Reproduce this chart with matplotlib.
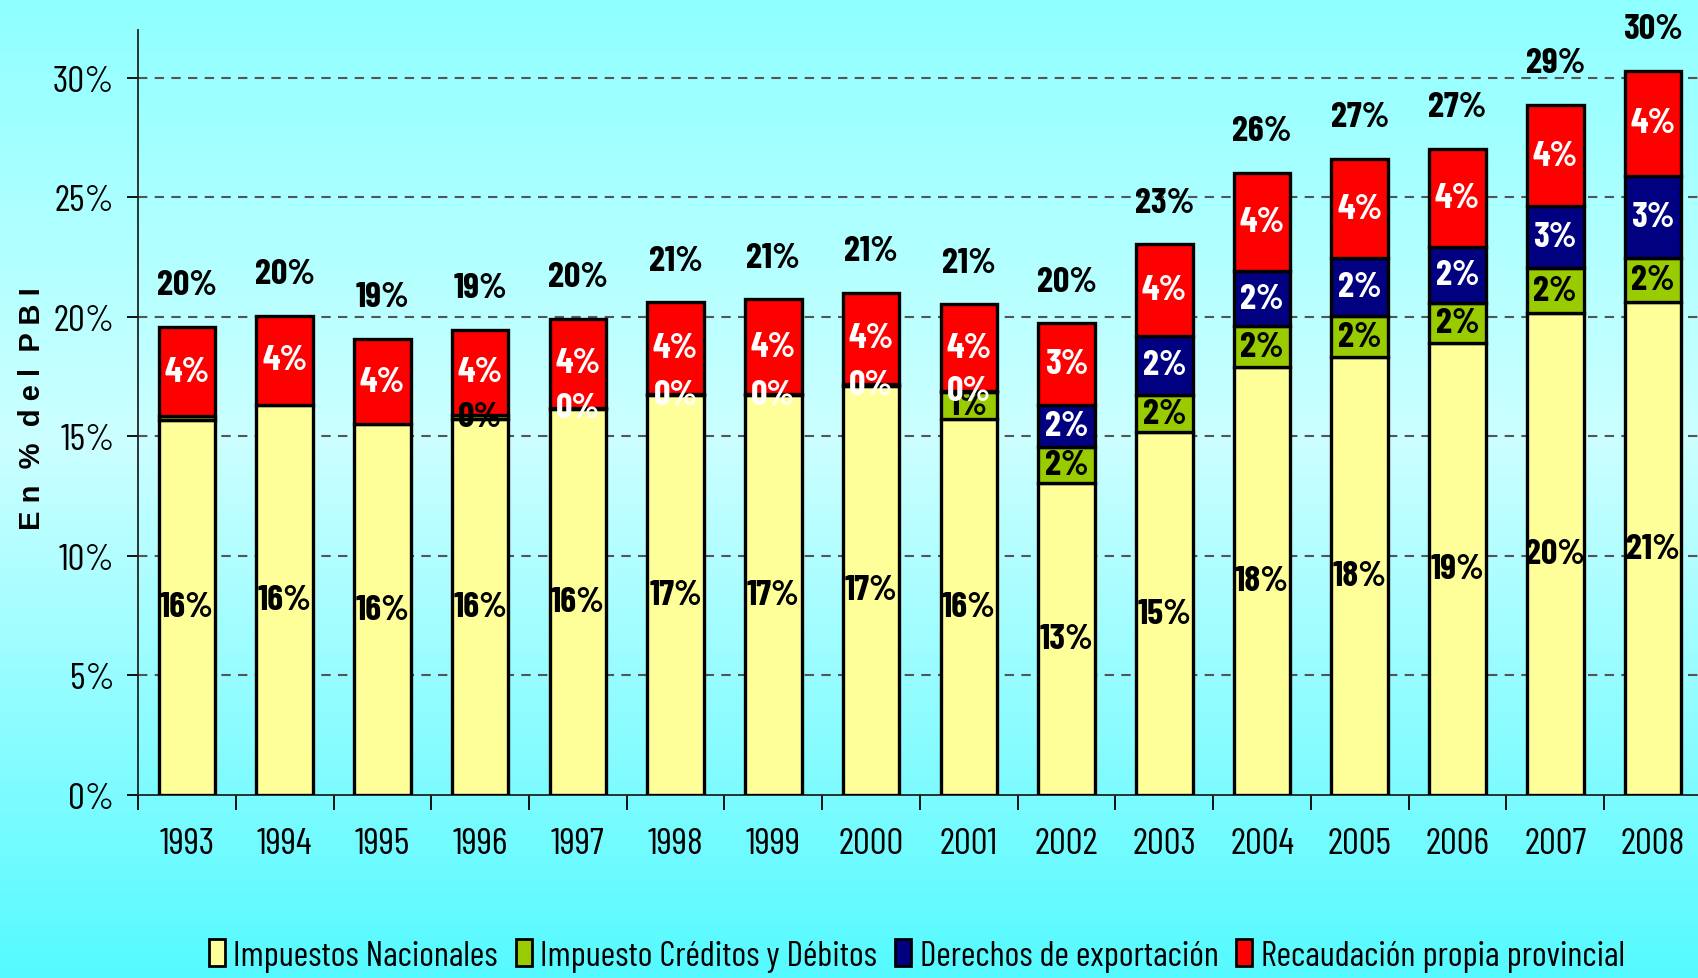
import numpy as np
import matplotlib
matplotlib.use("Agg")
import matplotlib.pyplot as plt
from matplotlib.patches import Patch


anios = ['1993', '1994', '1995', '1996', '1997', '1998', '1999', '2000',
         '2001', '2002', '2003', '2004', '2005', '2006', '2007', '2008']

# en % del PBI (nan = no hay segmento)
nan = np.nan
impuestos = [15.70, 16.32, 15.52, 15.73, 16.15, 16.72, 16.72, 17.13,
             15.73, 13.05, 15.17, 17.89, 18.33, 18.89, 20.16, 20.61]
creditos = [0.15, nan, nan, 0.18, nan, nan, nan, nan,
            1.14, 1.52, 1.56, 1.71, 1.70, 1.70, 1.87, 1.85]
derechos = [nan, nan, nan, nan, 0.05, 0.05, 0.05, 0.05,
            0.05, 1.74, 2.48, 2.30, 2.43, 2.32, 2.59, 3.44]
provincial = [3.73, 3.73, 3.55, 3.56, 3.71, 3.84, 3.97, 3.84,
              3.60, 3.42, 3.83, 4.14, 4.14, 4.11, 4.24, 4.39]

nombres = ['Impuestos Nacionales', 'Impuesto Créditos y Débitos',
           'Derechos de exportación', 'Recaudación propia provincial']
colores = ['#FFFF99', '#99CC00', '#000080', '#FF0000']
col_texto = ['black', 'black', 'white', 'white']
sin_etiqueta = {(1, 0)}  # serie creditos, 1993: no tiene rotulo

plt.rcParams['font.family'] = ['Barlow Condensed', 'DejaVu Sans']

fig = plt.figure(figsize=(16.98, 9.79), dpi=100)

# fondo degradado
bg = fig.add_axes([0, 0, 1, 1], zorder=-10)
t = np.linspace(0, 1, 400)
stops = [0.0, 0.45, 1.0]
r = np.interp(t, stops, [0.56, 0.80, 0.33])
g = np.interp(t, stops, [1.0, 1.0, 0.98])
b = np.ones_like(t)
grad = np.stack([r, g, b], axis=1)[:, None, :]
bg.imshow(grad, aspect='auto', extent=[0, 1, 0, 1])
bg.axis('off')

ax = fig.add_axes([0.0813, 0.1869, 0.921, 0.7814])
ax.set_facecolor('none')

x = np.arange(len(anios))
ancho = 0.58
series = [impuestos, creditos, derechos, provincial]
base = np.zeros(len(anios))

for s, vals in enumerate(series):
    v = np.array(vals, dtype=float)
    ok = ~np.isnan(v)
    ax.bar(x[ok], v[ok], bottom=base[ok], width=ancho, color=colores[s],
           edgecolor='black', linewidth=2.4, zorder=3)
    for i in np.where(ok)[0]:
        if (s, i) in sin_etiqueta:
            continue
        ax.text(x[i], base[i] + v[i] / 2, '{:.0f}%'.format(v[i]),
                ha='center', va='center', fontsize=26, fontweight='bold',
                color=col_texto[s], zorder=5)
    base[ok] += v[ok]

for i in range(len(anios)):
    ax.annotate('{:.0f}%'.format(base[i]), (x[i], base[i]), xytext=(0, 30),
                textcoords='offset points', ha='center', va='center',
                fontsize=26, fontweight='bold', color='black', zorder=5)

ax.set_xlim(-0.5, len(anios) - 0.5)
ax.set_ylim(0, 32)
ax.set_yticks(np.arange(0, 31, 5))
ax.set_yticklabels(['{}%'.format(v) for v in range(0, 31, 5)], fontsize=27)
ax.set_xticks(x)
ax.set_xticklabels(anios, fontsize=27)
ax.set_xticks(np.arange(-0.5, len(anios), 1), minor=True)
ax.tick_params(axis='x', which='major', length=0, pad=23)
ax.tick_params(axis='x', which='minor', length=11, width=1.3, direction='out')
ax.tick_params(axis='y', length=8, width=1.3, pad=9)

for yv in range(5, 31, 5):
    ax.axhline(yv, color='#555555', linestyle=(0, (4.5, 3.5)), linewidth=1.5, zorder=1)

ax.spines['top'].set_visible(False)
ax.spines['right'].set_visible(False)
for lado in ['left', 'bottom']:
    ax.spines[lado].set_linewidth(1.3)
    ax.spines[lado].set_color('#222222')

fig.text(0.019, 0.583, 'E n  %  d e l  P B I', rotation=90,
         ha='center', va='center', fontsize=21, fontweight='bold',
         family=['Liberation Sans', 'DejaVu Sans'])

handles = [Patch(facecolor=colores[k], edgecolor='black', linewidth=2)
           for k in range(4)]
fig.legend(handles, nombres, loc='center', bbox_to_anchor=(0.54, 0.023),
           ncol=4, frameon=False, fontsize=25.5, handlelength=0.45,
           handleheight=0.8, handletextpad=0.25, columnspacing=0.5)

fig.savefig('out.png', dpi=100)
